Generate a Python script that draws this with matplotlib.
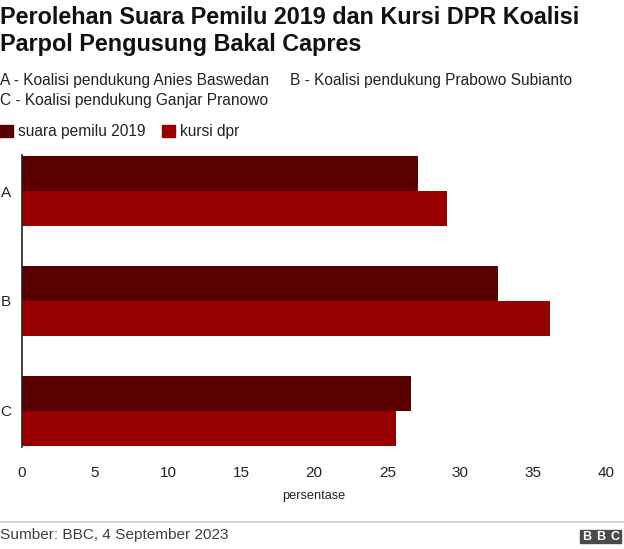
import matplotlib
matplotlib.use("Agg")
import matplotlib.pyplot as plt
from matplotlib.patches import Rectangle
import numpy as np

plt.rcParams['font.family'] = ['Liberation Sans', 'DejaVu Sans']

# data
categories = ['A', 'B', 'C']
suara_pemilu = [27.1, 32.6, 26.6]
kursi_dpr = [29.1, 36.1, 25.6]
x_ticks = [0, 5, 10, 15, 20, 25, 30, 35, 40]

c_suara = '#5a0000'
c_kursi = '#990000'

W, H = 624, 549
fig = plt.figure(figsize=(W / 100, H / 100), dpi=100)

def fx(px):
    return px / W

def fy(py):
    return 1 - py / H

ax = fig.add_axes([fx(22), fy(452), fx(606.5) - fx(22), fy(150) - fy(452)])
y = np.arange(len(categories))
h = 0.318
ax.barh(y - h / 2, suara_pemilu, h, color=c_suara)
ax.barh(y + h / 2, kursi_dpr, h, color=c_kursi)
ax.set_ylim(2.373, -0.373)
ax.set_xlim(0, 40)
ax.set_yticks(y)
ax.set_yticklabels(categories, fontsize=11)
ax.set_xticks(x_ticks)
ax.set_xticklabels([str(t) for t in x_ticks], fontsize=11)
ax.tick_params(axis='both', length=0, colors='#222222')
ax.tick_params(axis='y', pad=8)
ax.tick_params(axis='x', pad=10)
for s in ['top', 'right', 'bottom']:
    ax.spines[s].set_visible(False)
ax.spines['left'].set_color('#222222')
ax.spines['left'].set_linewidth(1.2)
ax.spines['left'].set_bounds(-0.33, 2.33)
ax.set_xlabel('persentase', fontsize=9.2, color='#222222', labelpad=7)

# title and subtitle
fig.text(0, fy(17), 'Perolehan Suara Pemilu 2019 dan Kursi DPR Koalisi', fontsize=16.8,
         fontweight='bold', va='center', ha='left', color='#111111')
fig.text(0, fy(44.5), 'Parpol Pengusung Bakal Capres', fontsize=16.8,
         fontweight='bold', va='center', ha='left', color='#111111')
fig.text(0, fy(80), 'A - Koalisi pendukung Anies Baswedan', fontsize=11.2, va='center', color='#222222')
fig.text(fx(290), fy(80), 'B - Koalisi pendukung Prabowo Subianto', fontsize=11.2, va='center', color='#222222')
fig.text(0, fy(100), 'C - Koalisi pendukung Ganjar Pranowo', fontsize=11.2, va='center', color='#222222')

# legend
fig.patches.append(Rectangle((fx(0), fy(137)), fx(13), fy(125) - fy(137), color=c_suara,
                             transform=fig.transFigure, figure=fig))
fig.text(fx(18), fy(131.5), 'suara pemilu 2019', fontsize=11.2, va='center', color='#222222')
fig.patches.append(Rectangle((fx(162), fy(137)), fx(13), fy(125) - fy(137), color=c_kursi,
                             transform=fig.transFigure, figure=fig))
fig.text(fx(180), fy(131.5), 'kursi dpr', fontsize=11.2, va='center', color='#222222')

# footer
fig.add_artist(plt.Line2D([0, 1], [fy(522), fy(522)], color='#cccccc', lw=1.2,
                          transform=fig.transFigure))
fig.text(0, fy(535.5), 'Sumber: BBC, 4 September 2023', fontsize=11.1, va='center', color='#404040')
for i, letter in enumerate('BBC'):
    x0 = 580 + i * 14.2
    fig.patches.append(Rectangle((fx(x0), fy(543)), fx(13), fy(529.5) - fy(543), color='#4a4a4a',
                                 transform=fig.transFigure, figure=fig))
    fig.text(fx(x0 + 6.5), fy(536.5), letter, fontsize=9, fontweight='bold', color='white',
             ha='center', va='center')

fig.savefig('out.png', dpi=100)
